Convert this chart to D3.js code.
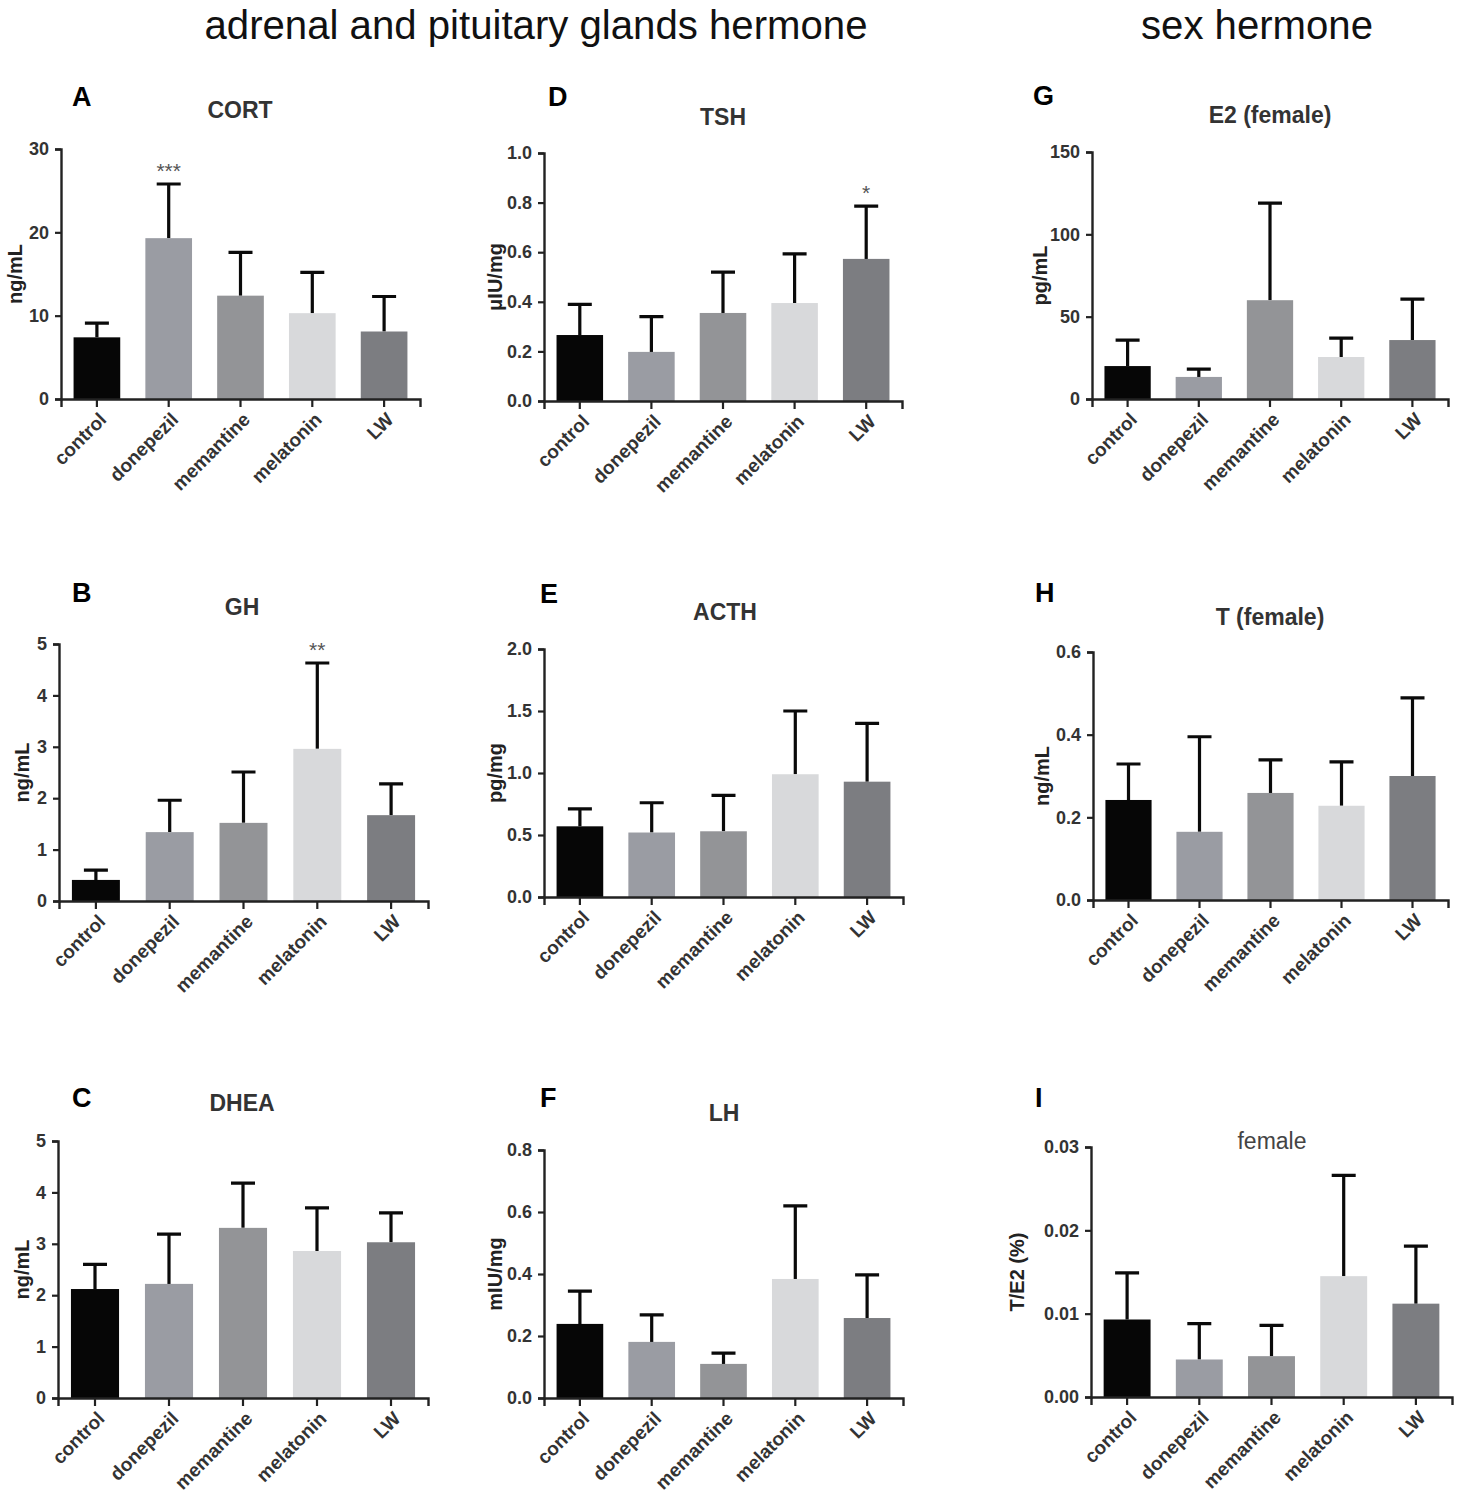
<!DOCTYPE html>
<html>
<head>
<meta charset="utf-8">
<script src="https://cdn.jsdelivr.net/npm/d3@7"></script>
<style>
  body { margin: 0; background: #fff; }
  text { font-family: "Liberation Sans", Arial, sans-serif; }
</style>
</head>
<body>
<div id="vis"></div>
<script>
const FRAME_WIDTH = 1459;
const FRAME_HEIGHT = 1501;

// groups and colours
const GROUPS = ["control", "donepezil", "memantine", "melatonin", "LW"];
const GROUP_COLORS = ["#060606", "#9a9ca3", "#939497", "#d8d9db", "#7c7d81"];

// mean and SD (upper error bar only)
const CORT_MEAN = [7.4, 19.3, 12.4, 10.3, 8.1];
const CORT_SD   = [1.7, 6.5, 5.2, 4.9, 4.2];
const GH_MEAN   = [0.41, 1.34, 1.52, 2.96, 1.67];
const GH_SD     = [0.19, 0.62, 0.99, 1.67, 0.61];
const DHEA_MEAN = [2.12, 2.22, 3.31, 2.86, 3.03];
const DHEA_SD   = [0.48, 0.97, 0.87, 0.84, 0.57];
const TSH_MEAN  = [0.266, 0.198, 0.355, 0.395, 0.573];
const TSH_SD    = [0.124, 0.142, 0.165, 0.198, 0.213];
const ACTH_MEAN = [0.57, 0.52, 0.53, 0.99, 0.93];
const ACTH_SD   = [0.14, 0.24, 0.29, 0.51, 0.47];
const LH_MEAN   = [0.239, 0.181, 0.110, 0.384, 0.258];
const LH_SD     = [0.106, 0.087, 0.035, 0.236, 0.139];
const E2_MEAN   = [20, 13.4, 60, 25.5, 35.8];
const E2_SD     = [15.8, 4.8, 59, 11.5, 24.9];
const T_MEAN    = [0.242, 0.165, 0.259, 0.228, 0.300];
const T_SD      = [0.087, 0.230, 0.080, 0.106, 0.189];
const TE2_MEAN  = [0.0093, 0.0045, 0.0049, 0.0145, 0.0112];
const TE2_SD    = [0.0056, 0.0043, 0.0037, 0.0121, 0.0069];

// significance marks
const CORT_SIG = ["", "***", "", "", ""];
const GH_SIG   = ["", "", "", "**", ""];
const TSH_SIG  = ["", "", "", "", "*"];
const NO_SIG   = ["", "", "", "", ""];

// y tick labels
const CORT_TICKS = [0, 10, 20, 30];
const GH_TICKS   = [0, 1, 2, 3, 4, 5];
const DHEA_TICKS = [0, 1, 2, 3, 4, 5];
const TSH_TICKS  = [0, 0.2, 0.4, 0.6, 0.8, 1.0];
const ACTH_TICKS = [0, 0.5, 1.0, 1.5, 2.0];
const LH_TICKS   = [0, 0.2, 0.4, 0.6, 0.8];
const E2_TICKS   = [0, 50, 100, 150];
const T_TICKS    = [0, 0.2, 0.4, 0.6];
const TE2_TICKS  = [0, 0.01, 0.02, 0.03];

const HEADERS = [
  {text: "adrenal and pituitary glands hermone", x: 536, y: 39, len: 663},
  {text: "sex hermone", x: 1257, y: 39, len: 232}
];

const PANELS = [
  {letter: "A", title: "CORT", unit: "ng/mL", mean: CORT_MEAN, sd: CORT_SD, sig: CORT_SIG, ticks: CORT_TICKS, fmt: "d",
   x0: 61, x1: 420, yTop: 149, yBot: 399, tx: 240, ty: 118, lx: 72, ly: 106, ux: 15},
  {letter: "B", title: "GH", unit: "ng/mL", mean: GH_MEAN, sd: GH_SD, sig: GH_SIG, ticks: GH_TICKS, fmt: "d",
   x0: 59, x1: 428, yTop: 644, yBot: 901, tx: 242, ty: 615, lx: 72, ly: 602, ux: 22},
  {letter: "C", title: "DHEA", unit: "ng/mL", mean: DHEA_MEAN, sd: DHEA_SD, sig: NO_SIG, ticks: DHEA_TICKS, fmt: "d",
   x0: 58, x1: 428, yTop: 1141, yBot: 1398, tx: 242, ty: 1111, lx: 72, ly: 1107, ux: 22},
  {letter: "D", title: "TSH", unit: "μIU/mg", mean: TSH_MEAN, sd: TSH_SD, sig: TSH_SIG, ticks: TSH_TICKS, fmt: ".1f",
   x0: 544, x1: 902, yTop: 153, yBot: 401, tx: 723, ty: 125, lx: 548, ly: 106, ux: 495},
  {letter: "E", title: "ACTH", unit: "pg/mg", mean: ACTH_MEAN, sd: ACTH_SD, sig: NO_SIG, ticks: ACTH_TICKS, fmt: ".1f",
   x0: 544, x1: 903, yTop: 649, yBot: 897, tx: 725, ty: 620, lx: 540, ly: 603, ux: 495},
  {letter: "F", title: "LH", unit: "mIU/mg", mean: LH_MEAN, sd: LH_SD, sig: NO_SIG, ticks: LH_TICKS, fmt: ".1f",
   x0: 544, x1: 903, yTop: 1150, yBot: 1398, tx: 724, ty: 1121, lx: 540, ly: 1107, ux: 495},
  {letter: "G", title: "E2 (female)", unit: "pg/mL", mean: E2_MEAN, sd: E2_SD, sig: NO_SIG, ticks: E2_TICKS, fmt: "d",
   x0: 1092, x1: 1448, yTop: 152, yBot: 399, tx: 1270, ty: 123, lx: 1033, ly: 105, ux: 1040},
  {letter: "H", title: "T (female)", unit: "ng/mL", mean: T_MEAN, sd: T_SD, sig: NO_SIG, ticks: T_TICKS, fmt: ".1f",
   x0: 1093, x1: 1448, yTop: 652, yBot: 900, tx: 1270, ty: 625, lx: 1035, ly: 602, ux: 1042},
  {letter: "I", title: "female", unit: "T/E2 (%)", mean: TE2_MEAN, sd: TE2_SD, sig: NO_SIG, ticks: TE2_TICKS, fmt: ".2f",
   x0: 1091, x1: 1452, yTop: 1147, yBot: 1397, tx: 1272, ty: 1149, lx: 1035, ly: 1107, ux: 1017, plain: true}
];

const FRAME = d3.select("#vis")
  .append("svg")
  .attr("width", FRAME_WIDTH)
  .attr("height", FRAME_HEIGHT);

FRAME.selectAll(".header")
  .data(HEADERS)
  .enter()
  .append("text")
  .attr("class", "header")
  .attr("x", (d) => d.x)
  .attr("y", (d) => d.y)
  .attr("text-anchor", "middle")
  .attr("font-size", 40)
  .attr("font-family", "'Liberation Sans Narrow', 'Liberation Sans', Arial, sans-serif")
  .attr("textLength", (d) => d.len)
  .attr("lengthAdjust", "spacingAndGlyphs")
  .attr("fill", "#111")
  .text((d) => d.text);

const COLOR = d3.scaleOrdinal().domain(GROUPS).range(GROUP_COLORS);

PANELS.forEach((p) => {
  const g = FRAME.append("g");

  const X_SCALE = d3.scaleBand()
    .domain(GROUPS)
    .range([p.x0, p.x1])
    .paddingInner(0.35)
    .paddingOuter(0.175);

  const Y_SCALE = d3.scaleLinear()
    .domain([0, p.ticks[p.ticks.length - 1]])
    .range([p.yBot, p.yTop]);

  const rows = GROUPS.map((k, i) => ({group: k, mean: p.mean[i], sd: p.sd[i], sig: p.sig[i]}));

  // error bars (upper only), drawn under the bars
  const cap = 24;
  g.selectAll(".err")
    .data(rows)
    .enter()
    .append("path")
    .attr("d", (d) => {
      const cx = X_SCALE(d.group) + X_SCALE.bandwidth() / 2;
      const yt = Y_SCALE(d.mean + d.sd);
      return "M" + cx + "," + Y_SCALE(d.mean) + "V" + yt +
             "M" + (cx - cap / 2) + "," + yt + "H" + (cx + cap / 2);
    })
    .attr("fill", "none")
    .attr("stroke", "#0a0a0a")
    .attr("stroke-width", 3.2);

  g.selectAll(".bar")
    .data(rows)
    .enter()
    .append("rect")
    .attr("x", (d) => X_SCALE(d.group))
    .attr("y", (d) => Y_SCALE(d.mean))
    .attr("width", X_SCALE.bandwidth())
    .attr("height", (d) => p.yBot - Y_SCALE(d.mean))
    .attr("fill", (d) => COLOR(d.group));

  g.selectAll(".sig")
    .data(rows.filter((d) => d.sig !== ""))
    .enter()
    .append("text")
    .attr("x", (d) => X_SCALE(d.group) + X_SCALE.bandwidth() / 2)
    .attr("y", (d) => Y_SCALE(d.mean + d.sd) - 6)
    .attr("text-anchor", "middle")
    .attr("font-size", 21)
    .attr("fill", "#555")
    .text((d) => d.sig);

  // axes
  const xAxis = g.append("g")
    .attr("transform", "translate(0," + p.yBot + ")")
    .call(d3.axisBottom(X_SCALE).tickSizeOuter(0).tickSize(8).tickFormat(""));

  const yAxis = g.append("g")
    .attr("transform", "translate(" + p.x0 + ",0)")
    .call(d3.axisLeft(Y_SCALE).tickValues(p.ticks).tickSizeOuter(0).tickSize(6).tickPadding(6)
      .tickFormat(d3.format(p.fmt)));

  [xAxis, yAxis].forEach((a) => {
    a.selectAll("path, line").attr("stroke", "#222").attr("stroke-width", 2.2);
    a.select(".domain").attr("stroke-width", 2.4);
  });
  yAxis.selectAll("text")
    .attr("font-size", 18)
    .attr("font-weight", "bold")
    .attr("fill", "#333");

  // rotated category labels
  g.selectAll(".xlab")
    .data(GROUPS)
    .enter()
    .append("text")
    .attr("transform", (d) => "translate(" + (X_SCALE(d) + X_SCALE.bandwidth() / 2 + 6) + "," + (p.yBot + 17) + ") rotate(-45)")
    .attr("text-anchor", "end")
    .attr("dy", "0.35em")
    .attr("font-size", 19)
    .attr("font-weight", "bold")
    .attr("fill", "#333")
    .text((d) => d);

  // y axis label
  g.append("text")
    .attr("transform", "translate(" + p.ux + "," + ((p.yTop + p.yBot) / 2) + ") rotate(-90)")
    .attr("text-anchor", "middle")
    .attr("dy", "0.35em")
    .attr("font-size", 20)
    .attr("font-weight", "bold")
    .attr("fill", "#222")
    .text(p.unit);

  // title and panel letter
  g.append("text")
    .attr("x", p.tx)
    .attr("y", p.ty)
    .attr("text-anchor", "middle")
    .attr("font-size", 23)
    .attr("font-weight", p.plain ? "normal" : "bold")
    .attr("fill", p.plain ? "#444" : "#333")
    .text(p.title);

  g.append("text")
    .attr("x", p.lx)
    .attr("y", p.ly)
    .attr("font-size", 27)
    .attr("font-weight", "bold")
    .attr("fill", "#000")
    .text(p.letter);
});
</script>
</body>
</html>
